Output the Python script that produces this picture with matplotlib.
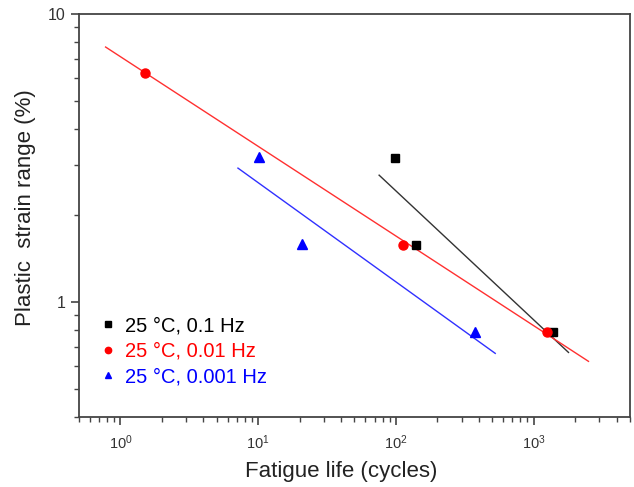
import numpy as np
import matplotlib
matplotlib.use("Agg")
import matplotlib.pyplot as plt
from matplotlib.ticker import LogLocator, FixedLocator, FixedFormatter, NullFormatter

plt.rcParams['font.family'] = ['Liberation Sans', 'DejaVu Sans']
plt.rcParams['mathtext.fontset'] = 'custom'
plt.rcParams['mathtext.rm'] = 'Liberation Sans'
plt.rcParams['mathtext.it'] = 'Liberation Sans'

# ================= DATA =================
labels = ["25 °C, 0.1 Hz", "25 °C, 0.01 Hz", "25 °C, 0.001 Hz"]
colors = ["black", "red", "blue"]
markers = ["s", "o", "^"]

life_01 = [99, 140, 1380]
strain_01 = [3.16, 1.58, 0.787]
life_001 = [1.5, 113, 1260]
strain_001 = [6.25, 1.58, 0.787]
life_0001 = [10.1, 20.9, 372]
strain_0001 = [3.19, 1.59, 0.787]

# fitted lines, endpoints only
fit_life_01 = [75.5, 1790]
fit_strain_01 = [2.76, 0.67]
fit_life_001 = [0.78, 2500]
fit_strain_001 = [7.68, 0.624]
fit_life_0001 = [7.13, 526]
fit_strain_0001 = [2.92, 0.665]

y_ticks = [1, 10]
y_ticklabels = ["1", "10"]

# ================= PLOT =================
fig = plt.figure(figsize=(6.34, 4.87), dpi=100)
ax = fig.add_axes([0.1246, 0.1437, 0.869, 0.8276])

ax.plot(fit_life_01, fit_strain_01, color="#333333", lw=1.0)
ax.plot(fit_life_001, fit_strain_001, color="#ff3030", lw=1.0)
ax.plot(fit_life_0001, fit_strain_0001, color="#3030ff", lw=1.0)

series = [(life_01, strain_01), (life_001, strain_001), (life_0001, strain_0001)]
sizes = [6, 6.5, 7]
for (x, y), lab, c, m, s in zip(series, labels, colors, markers, sizes):
    ax.plot(x, y, linestyle="none", marker=m, color=c, markersize=s, label=lab)

ax.set_xscale("log")
ax.set_yscale("log")
ax.set_xlim(0.5, 5000)
ax.set_ylim(0.4, 10)

ax.yaxis.set_major_locator(FixedLocator(y_ticks))
ax.yaxis.set_major_formatter(FixedFormatter(y_ticklabels))
ax.yaxis.set_minor_locator(LogLocator(base=10, subs=np.arange(2, 10)))
ax.yaxis.set_minor_formatter(NullFormatter())
ax.xaxis.set_minor_locator(LogLocator(base=10, subs=np.arange(2, 10)))
ax.xaxis.set_minor_formatter(NullFormatter())

for sp in ax.spines.values():
    sp.set_color("#444444")
    sp.set_linewidth(1.3)

ax.tick_params(which="major", direction="out", length=6, width=1.2, color="#444444",
               labelcolor="#333333", top=False, right=False)
ax.tick_params(axis="y", which="major", labelsize=11.5)
ax.tick_params(axis="x", which="major", labelsize=10.5, pad=6)
ax.tick_params(which="minor", direction="out", length=3.5, width=1.0, color="#444444",
               top=False, right=False)

ax.set_xlabel("Fatigue life (cycles)", fontsize=16, color="#222222")
ax.set_ylabel("Plastic  strain range (%)", fontsize=16, color="#222222")
ax.xaxis.set_label_coords(0.475, -0.11)
ax.yaxis.set_label_coords(-0.078, 0.52)

leg = ax.legend(loc="upper left", bbox_to_anchor=(0.0, 0.295), frameon=False, fontsize=14.5,
                handletextpad=0.3, handlelength=1.1, labelspacing=0.33, markerscale=0.7)
for text, c in zip(leg.get_texts(), colors):
    text.set_color(c)

fig.savefig("out.png", dpi=100)
